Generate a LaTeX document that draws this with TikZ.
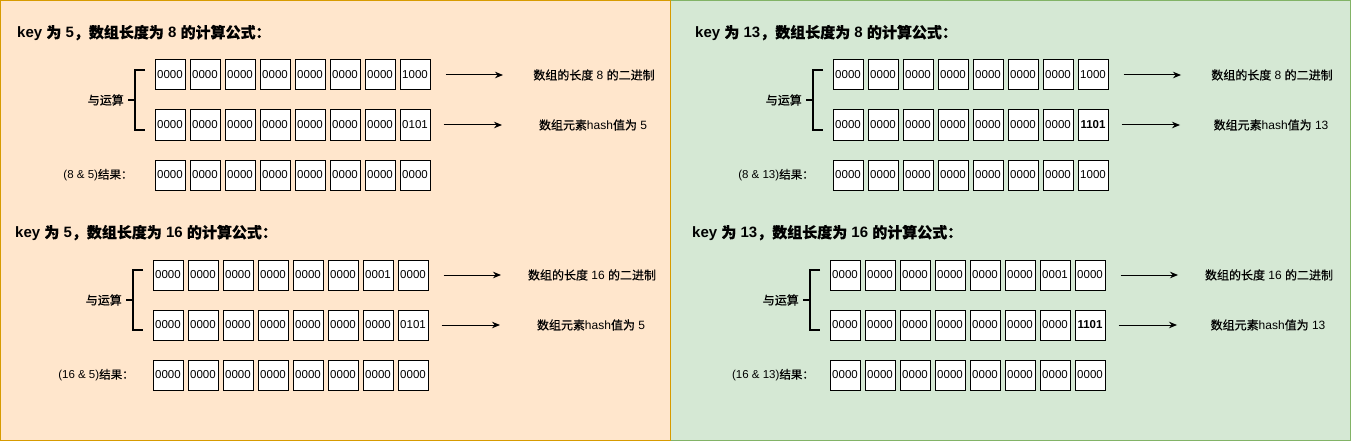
\documentclass[tikz,border=0pt]{standalone}
\usepackage{fontspec}
\setmainfont{Liberation Sans}
\newfontfamily\cjk{Noto Sans CJK SC}[FakeBold=0.4]
\usetikzlibrary{arrows.meta}
\definecolor{orfill}{HTML}{FFE6CC}
\definecolor{ordraw}{HTML}{D79B00}
\definecolor{grfill}{HTML}{D5E8D4}
\definecolor{grdraw}{HTML}{82B366}
\newcommand\C[1]{{\cjk #1}}
\tikzset{
  box/.style={draw=black, line width=1pt, fill=white, minimum width=30pt, minimum height=30pt, inner sep=0pt, font=\fontsize{11.5}{13}\selectfont},
  ttl/.style={anchor=west, inner sep=0pt, font=\fontsize{15}{18}\selectfont\bfseries},
  lbl/.style={inner sep=0pt, font=\fontsize{12}{14}\selectfont},
  res/.style={inner sep=0pt, font=\fontsize{11.5}{13}\selectfont},
  brk/.style={draw=black, line width=2pt},
  arr/.style={draw=black, line width=1pt, -{Stealth[length=8pt,width=6.5pt]}},
}
\newcommand\grp[8]{%
  \begin{scope}[shift={(#2,#3)}]
    \node[ttl] (#1title) at (-138,-27) {key \C{为} #8\C{，数组长度为} #7 \C{的计算公式：}};
    \foreach \v [count=\i] in {#4} \node[box] (#1a\i) at ({35*(\i-1)+15},15) {\v};
    \foreach \v [count=\i] in {#5} \node[box] (#1b\i) at ({35*(\i-1)+15},65) {\v};
    \foreach \v [count=\i] in {#6} \node[box] (#1c\i) at ({35*(\i-1)+15},115) {\v};
    \coordinate (#1k1) at (-10,10);
    \coordinate (#1k2) at (-20,10);
    \coordinate (#1k3) at (-20,70);
    \coordinate (#1k4) at (-10,70);
    \coordinate (#1km) at (-20,40);
    \coordinate (#1kl) at (-27,40);
    \draw[brk] (#1k1) -- (#1k2) -- (#1k3) -- (#1k4);
    \draw[brk, line width=1.5pt] (#1km) -- (#1kl);
    \node[lbl, anchor=east] (#1op) at (-31,40) {\C{与运算}};
    \node[res] (#1res) at (-57,115) {(#7 \& #8)\C{结果：}};
    \coordinate (#1e1) at (348,15);
    \coordinate (#1e2) at (347,65);
    \draw[arr] ([xshift=15pt]#1a8.east) -- (#1e1);
    \draw[arr] ([xshift=13pt]#1b8.east) -- (#1e2);
    \node[lbl] (#1l1) at (439,15) {\C{数组的长度} #7 \C{的二进制}};
    \node[lbl] (#1l2) at (438,65) {\C{数组元素}hash\C{值为} #8};
  \end{scope}}
\begin{document}
\begin{tikzpicture}[x=1pt,y=-1pt]
  \useasboundingbox (0,0) rectangle (1351,441);
  \draw[grdraw, fill=grfill, line width=1pt] (670.5,0.5) rectangle (1350.5,440.5);
  \draw[ordraw, fill=orfill, line width=1pt] (0.5,0.5) rectangle (670.5,440.5);
  \grp{A}{155}{60}{0000,0000,0000,0000,0000,0000,0000,1000}{0000,0000,0000,0000,0000,0000,0000,0101}{0000,0000,0000,0000,0000,0000,0000,0000}{8}{5}
  \grp{B}{153}{260}{0000,0000,0000,0000,0000,0000,0001,0000}{0000,0000,0000,0000,0000,0000,0000,0101}{0000,0000,0000,0000,0000,0000,0000,0000}{16}{5}
  \grp{C}{833}{60}{0000,0000,0000,0000,0000,0000,0000,1000}{0000,0000,0000,0000,0000,0000,0000,\textbf{1101}}{0000,0000,0000,0000,0000,0000,0000,1000}{8}{13}
  \grp{D}{830}{260}{0000,0000,0000,0000,0000,0000,0001,0000}{0000,0000,0000,0000,0000,0000,0000,\textbf{1101}}{0000,0000,0000,0000,0000,0000,0000,0000}{16}{13}
\end{tikzpicture}
\end{document}
